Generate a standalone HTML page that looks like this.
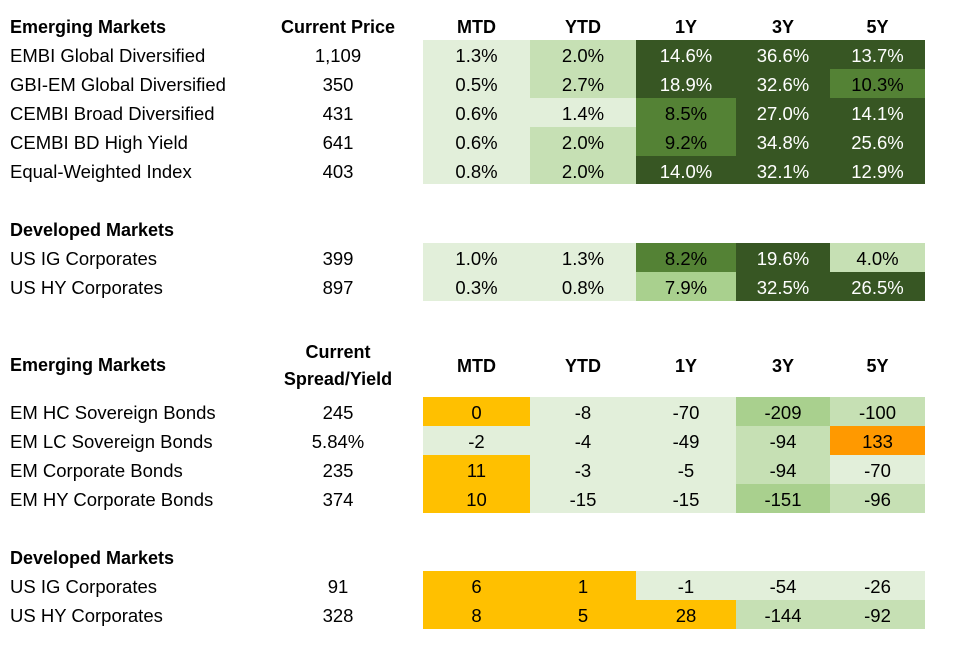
<!DOCTYPE html>
<html>
<head>
<meta charset="utf-8">
<style>
html,body{margin:0;padding:0;background:#fff;}
body{width:970px;height:645px;position:relative;overflow:hidden;font-family:"Liberation Sans",Arial,sans-serif;font-size:18.5px;color:#000;}
.r{position:absolute;left:0;width:970px;}
.r>div{position:absolute;top:0;height:100%;padding-top:7px;box-sizing:border-box;line-height:18.5px;text-align:center;white-space:nowrap;}
.r>div.l{left:10px;width:240px;text-align:left;}
.p{left:253px;width:170px;}
.c1{left:423px;width:107px;}
.c2{left:530px;width:106px;}
.c3{left:636px;width:100px;}
.c4{left:736px;width:94px;}
.c5{left:830px;width:95px;}
.L{background:#E2EFDA;}
.M{background:#C6E0B4;}
.A{background:#A9D08E;}
.G{background:#548235;}
.D{background:#375623;color:#fff;}
.Y{background:#FFC000;}
.O{background:#FF9900;}
.h{position:absolute;font-weight:bold;font-size:18px;line-height:18px;white-space:nowrap;}
.hc{text-align:center;}
</style>
</head>
<body>

<!-- Section 1 header -->
<div class="h" style="left:10px;top:17.5px;">Emerging Markets</div>
<div class="h hc" style="left:253px;width:170px;top:17.5px;">Current Price</div>
<div class="h hc" style="left:423px;width:107px;top:17.5px;">MTD</div>
<div class="h hc" style="left:530px;width:106px;top:17.5px;">YTD</div>
<div class="h hc" style="left:636px;width:100px;top:17.5px;">1Y</div>
<div class="h hc" style="left:736px;width:94px;top:17.5px;">3Y</div>
<div class="h hc" style="left:830px;width:95px;top:17.5px;">5Y</div>

<div class="r" style="top:40px;height:28.9px">
<div class="l">EMBI Global Diversified</div><div class="p">1,109</div>
<div class="c1 L">1.3%</div><div class="c2 M">2.0%</div><div class="c3 D">14.6%</div><div class="c4 D">36.6%</div><div class="c5 D">13.7%</div>
</div>
<div class="r" style="top:68.9px;height:28.9px">
<div class="l">GBI-EM Global Diversified</div><div class="p">350</div>
<div class="c1 L">0.5%</div><div class="c2 M">2.7%</div><div class="c3 D">18.9%</div><div class="c4 D">32.6%</div><div class="c5 G">10.3%</div>
</div>
<div class="r" style="top:97.8px;height:28.9px">
<div class="l">CEMBI Broad Diversified</div><div class="p">431</div>
<div class="c1 L">0.6%</div><div class="c2 L">1.4%</div><div class="c3 G">8.5%</div><div class="c4 D">27.0%</div><div class="c5 D">14.1%</div>
</div>
<div class="r" style="top:126.7px;height:28.9px">
<div class="l">CEMBI BD High Yield</div><div class="p">641</div>
<div class="c1 L">0.6%</div><div class="c2 M">2.0%</div><div class="c3 G">9.2%</div><div class="c4 D">34.8%</div><div class="c5 D">25.6%</div>
</div>
<div class="r" style="top:155.6px;height:28.9px">
<div class="l">Equal-Weighted Index</div><div class="p">403</div>
<div class="c1 L">0.8%</div><div class="c2 M">2.0%</div><div class="c3 D">14.0%</div><div class="c4 D">32.1%</div><div class="c5 D">12.9%</div>
</div>

<!-- Section 2 -->
<div class="h" style="left:10px;top:220.8px;">Developed Markets</div>
<div class="r" style="top:242.5px;height:29px">
<div class="l">US IG Corporates</div><div class="p">399</div>
<div class="c1 L">1.0%</div><div class="c2 L">1.3%</div><div class="c3 G">8.2%</div><div class="c4 D">19.6%</div><div class="c5 M">4.0%</div>
</div>
<div class="r" style="top:271.5px;height:29px">
<div class="l">US HY Corporates</div><div class="p">897</div>
<div class="c1 L">0.3%</div><div class="c2 L">0.8%</div><div class="c3 A">7.9%</div><div class="c4 D">32.5%</div><div class="c5 D">26.5%</div>
</div>

<!-- Section 3 header -->
<div class="h" style="left:10px;top:355.5px;">Emerging Markets</div>
<div class="h hc" style="left:253px;width:170px;top:342.5px;">Current</div>
<div class="h hc" style="left:253px;width:170px;top:369.8px;">Spread/Yield</div>
<div class="h hc" style="left:423px;width:107px;top:356.5px;">MTD</div>
<div class="h hc" style="left:530px;width:106px;top:356.5px;">YTD</div>
<div class="h hc" style="left:636px;width:100px;top:356.5px;">1Y</div>
<div class="h hc" style="left:736px;width:94px;top:356.5px;">3Y</div>
<div class="h hc" style="left:830px;width:95px;top:356.5px;">5Y</div>

<div class="r" style="top:396.7px;height:29.15px">
<div class="l">EM HC Sovereign Bonds</div><div class="p">245</div>
<div class="c1 Y">0</div><div class="c2 L">-8</div><div class="c3 L">-70</div><div class="c4 A">-209</div><div class="c5 M">-100</div>
</div>
<div class="r" style="top:425.85px;height:29.15px">
<div class="l">EM LC Sovereign Bonds</div><div class="p">5.84%</div>
<div class="c1 L">-2</div><div class="c2 L">-4</div><div class="c3 L">-49</div><div class="c4 M">-94</div><div class="c5 O">133</div>
</div>
<div class="r" style="top:455px;height:29.15px">
<div class="l">EM Corporate Bonds</div><div class="p">235</div>
<div class="c1 Y">11</div><div class="c2 L">-3</div><div class="c3 L">-5</div><div class="c4 M">-94</div><div class="c5 L">-70</div>
</div>
<div class="r" style="top:484.15px;height:29.15px">
<div class="l">EM HY Corporate Bonds</div><div class="p">374</div>
<div class="c1 Y">10</div><div class="c2 L">-15</div><div class="c3 L">-15</div><div class="c4 A">-151</div><div class="c5 M">-96</div>
</div>

<!-- Section 4 -->
<div class="h" style="left:10px;top:548.8px;">Developed Markets</div>
<div class="r" style="top:571px;height:29px">
<div class="l">US IG Corporates</div><div class="p">91</div>
<div class="c1 Y">6</div><div class="c2 Y">1</div><div class="c3 L">-1</div><div class="c4 L">-54</div><div class="c5 L">-26</div>
</div>
<div class="r" style="top:600px;height:29px">
<div class="l">US HY Corporates</div><div class="p">328</div>
<div class="c1 Y">8</div><div class="c2 Y">5</div><div class="c3 Y">28</div><div class="c4 M">-144</div><div class="c5 M">-92</div>
</div>

</body>
</html>
